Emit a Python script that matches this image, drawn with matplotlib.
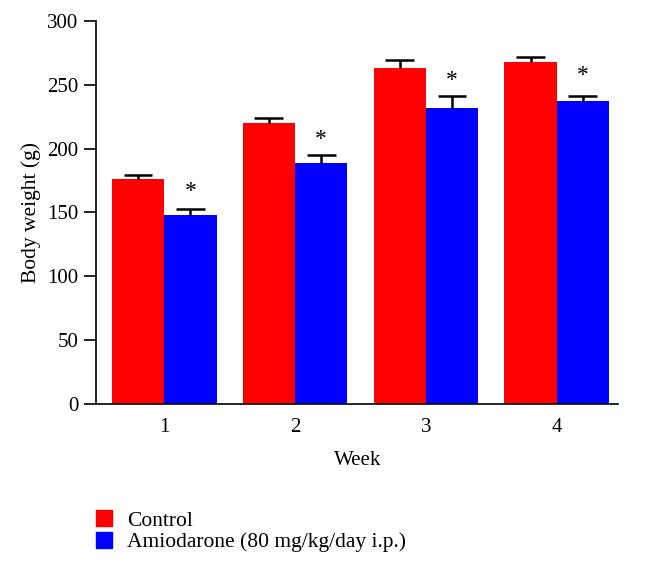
import matplotlib
matplotlib.use("Agg")
import matplotlib.pyplot as plt
import numpy as np
from matplotlib.patches import Patch

weeks = ["1", "2", "3", "4"]
control = [176, 220, 263, 268]
control_err = [3, 4, 6, 4]
amio = [148, 189, 232, 237]
amio_err = [4.5, 6, 9, 4]
star_y = [158, 199, 245, 249]

plt.rcParams["font.family"] = ["Liberation Serif", "DejaVu Serif"]

fig = plt.figure(figsize=(6.5, 5.65), dpi=100)
ax = fig.add_axes([0.148, 0.285, 0.803, 0.678])

x = np.arange(len(weeks))
w = 0.40
ax.bar(x - w / 2, control, w, color="#ff0000", edgecolor="none")
ax.bar(x + w / 2, amio, w, color="#0000ff", edgecolor="none")

# only the upper half of each error bar, with a cap on top
cap = 0.11
for xs, vals, errs in [(x - w / 2, control, control_err), (x + w / 2, amio, amio_err)]:
    tops = np.array(vals) + np.array(errs)
    ax.vlines(xs, vals, tops, color="black", lw=1.8)
    ax.hlines(tops, xs - cap, xs + cap, color="black", lw=1.8)

for xi, sy in zip(x, star_y):
    ax.text(xi + w / 2, sy, "*", ha="center", va="bottom", fontsize=17)

ax.set_xlim(-0.52, 3.47)
ax.set_ylim(0, 300)
ax.set_yticks(range(0, 301, 50))
ax.set_xticks(x)
ax.set_xticklabels(weeks)
ax.tick_params(axis="x", length=0, pad=10, labelsize=15)
ax.tick_params(axis="y", length=9, width=1.2, pad=4, labelsize=15)
for s in ["top", "right"]:
    ax.spines[s].set_visible(False)
for s in ["left", "bottom"]:
    ax.spines[s].set_linewidth(1.2)
ax.set_xlabel("Week", fontsize=15, labelpad=10)
ax.set_ylabel("Body weight (g)", fontsize=15.5, labelpad=4)

handles = [Patch(color="#ff0000"), Patch(color="#0000ff")]
fig.legend(handles, ["Control", "Amiodarone (80 mg/kg/day i.p.)"],
           loc="upper left", bbox_to_anchor=(0.134, 0.112), frameon=False,
           fontsize=15.5, handlelength=0.75, handleheight=0.75, handletextpad=0.7,
           labelspacing=0.06, borderaxespad=0)

fig.savefig("out.png", dpi=100, facecolor="white")
